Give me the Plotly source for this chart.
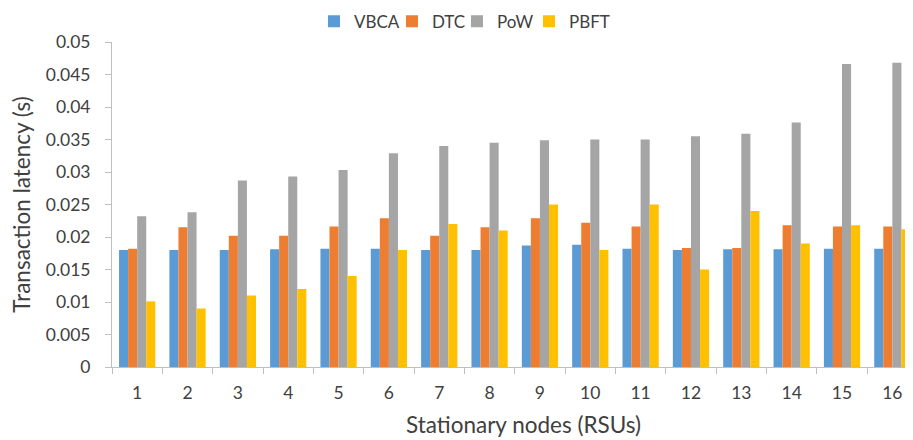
import plotly.graph_objects as go

nodes = [str(i) for i in range(1, 17)]
vbca = [0.018, 0.018, 0.018, 0.0181, 0.0182, 0.0182, 0.018, 0.018, 0.0187, 0.0188, 0.0182, 0.018, 0.0181, 0.0181, 0.0182, 0.0182]
dtc = [0.0182, 0.0215, 0.0202, 0.0202, 0.0216, 0.0229, 0.0202, 0.0215, 0.0229, 0.0222, 0.0216, 0.0183, 0.0183, 0.0218, 0.0216, 0.0216]
pow_ = [0.0232, 0.0238, 0.0287, 0.0293, 0.0303, 0.0329, 0.034, 0.0345, 0.0349, 0.035, 0.035, 0.0355, 0.0359, 0.0376, 0.0466, 0.0468]
pbft = [0.0101, 0.009, 0.011, 0.012, 0.014, 0.018, 0.022, 0.021, 0.025, 0.018, 0.025, 0.015, 0.024, 0.019, 0.0218, 0.0212]

series = [("VBCA", vbca, "#5B9BD5"), ("DTC", dtc, "#ED7D31"), ("PoW", pow_, "#A5A5A5"), ("PBFT", pbft, "#FFC000")]
legend_ids = ["legend", "legend2", "legend3", "legend4"]
legend_x = [0.3381, 0.4243, 0.4961, 0.5757]

font = "Lato, Open Sans, sans-serif"
txt = "#404040"

fig = go.Figure()
for (name, vals, col), lid in zip(series, legend_ids):
    fig.add_trace(go.Bar(x=nodes, y=vals, name=name, legend=lid,
                         marker=dict(color=col, line=dict(width=0))))

legends = {}
for lid, lx in zip(legend_ids, legend_x):
    legends[lid] = dict(orientation="h", xref="container", yref="container", x=lx, xanchor="left",
                        y=0.968, yanchor="middle", font=dict(size=17, color=txt), itemwidth=30,
                        bgcolor="rgba(0,0,0,0)")

fig.update_layout(
    width=905, height=432,
    margin=dict(l=104, r=0, t=34, b=73, autoexpand=False),
    paper_bgcolor="white", plot_bgcolor="white",
    barmode="group", bargap=0.28, bargroupgap=0,
    font=dict(family=font, size=17.5, color=txt),
    showlegend=True,
    xaxis=dict(automargin=False, range=[-0.5, 15.41],
               showline=True, linecolor="#BFBFBF", linewidth=1, ticks="outside", tickcolor="#BFBFBF",
               ticklen=6, tickson="boundaries", showgrid=False, ticklabelstandoff=10,
               tickfont=dict(size=17.5, color=txt)),
    yaxis=dict(title=dict(text="Transaction latency (s)", font=dict(size=22.5, color=txt), standoff=8),
               automargin=False, range=[0, 0.05], dtick=0.005, tickformat="~g", showline=True,
               linecolor="#BFBFBF", linewidth=1, ticks="outside", tickcolor="#BFBFBF", ticklen=6,
               showgrid=False, zeroline=False, ticklabelstandoff=11,
               tickfont=dict(size=17.5, color=txt)),
    annotations=[dict(text="Stationary nodes (RSUs)", xref="paper", yref="paper", x=0.514, y=-0.178,
                      xanchor="center", yanchor="middle", showarrow=False,
                      font=dict(size=22.5, color=txt))],
    **legends,
)
fig.write_html("out.html")
